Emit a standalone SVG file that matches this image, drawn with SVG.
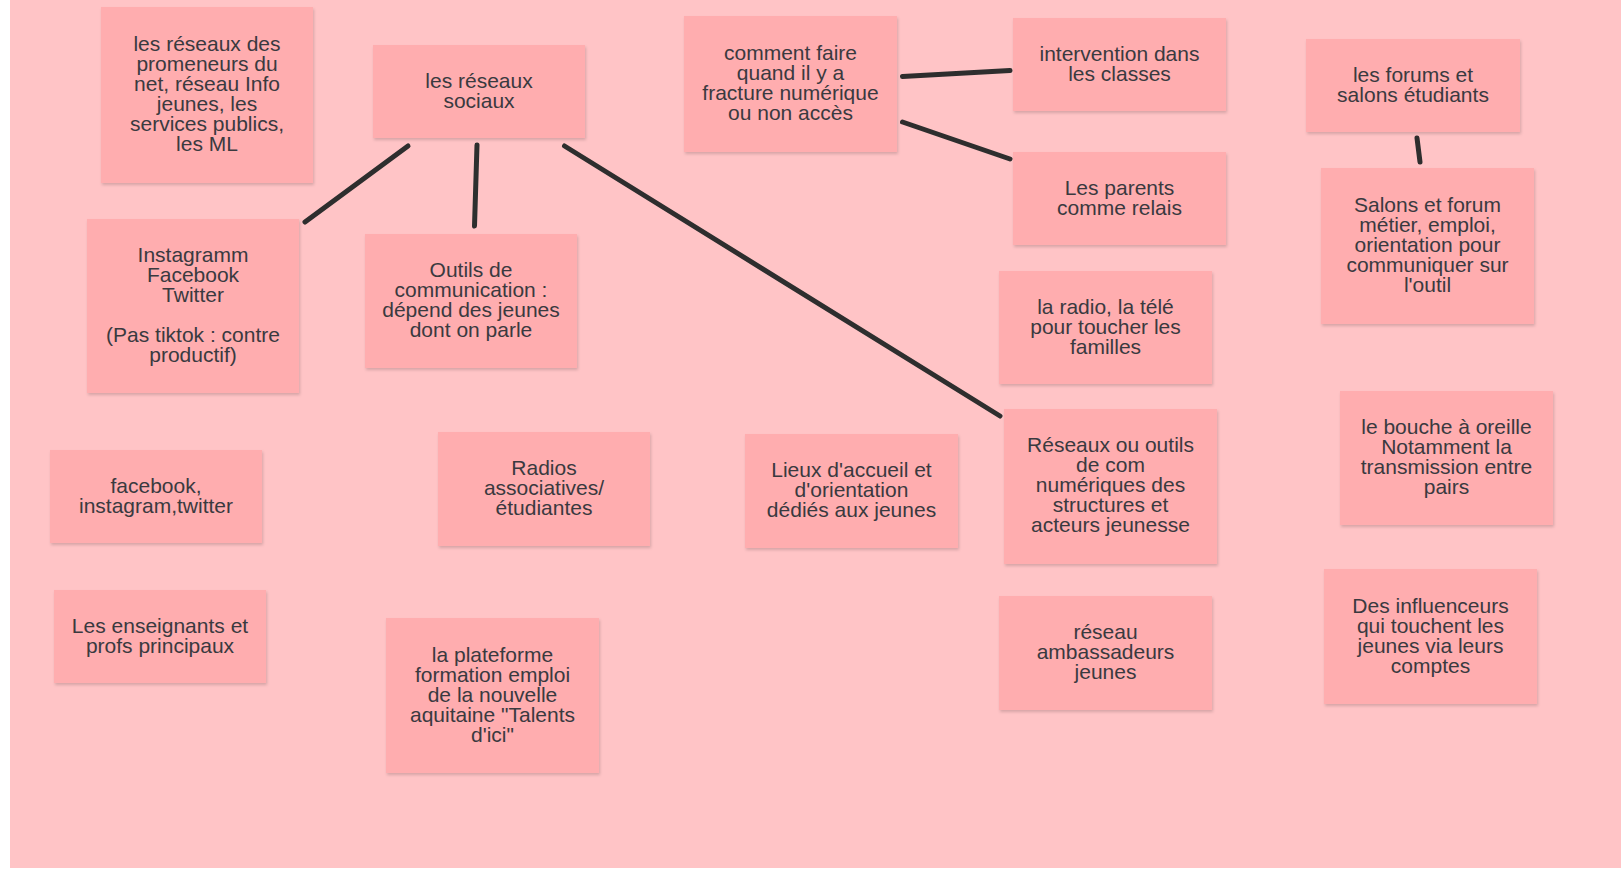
<svg xmlns="http://www.w3.org/2000/svg" width="1621" height="869" viewBox="0 0 1621 869">
<defs>
<filter id="sh" x="-10%" y="-10%" width="120%" height="125%">
<feDropShadow dx="1" dy="2" stdDeviation="1.5" flood-color="#000" flood-opacity="0.16"/>
</filter>
<style>
.bg{fill:#FFC4C6}
.note{fill:#FFADAF;filter:url(#sh)}
.t{font-family:"Liberation Sans",Arial,sans-serif;font-size:21px;fill:#3a3a3f;text-anchor:middle}
.c{stroke:#2e2e2e;stroke-width:5;stroke-linecap:round;fill:none}
</style>
</defs>
<rect x="0" y="0" width="1621" height="869" fill="#ffffff"/>
<rect class="bg" x="10" y="0" width="1611" height="868"/>

<g id="connectors">
<line class="c" x1="408" y1="146" x2="305" y2="222"/>
<line class="c" x1="477" y1="145" x2="474.5" y2="226"/>
<line class="c" x1="564.5" y1="146" x2="1000" y2="416"/>
<line class="c" x1="902.5" y1="76.5" x2="1010" y2="70.5"/>
<line class="c" x1="902.5" y1="122" x2="1010" y2="159"/>
<line class="c" x1="1417" y1="138" x2="1420" y2="162"/>
</g>

<g id="n1"><rect class="note" x="101" y="7" width="212" height="176"/>
<text class="t" y="51"><tspan x="207">les réseaux des</tspan><tspan x="207" dy="20">promeneurs du</tspan><tspan x="207" dy="20">net, réseau Info</tspan><tspan x="207" dy="20">jeunes, les</tspan><tspan x="207" dy="20">services publics,</tspan><tspan x="207" dy="20">les ML</tspan></text></g>

<g id="n2"><rect class="note" x="373" y="45" width="212" height="93"/>
<text class="t" y="87.5"><tspan x="479">les réseaux</tspan><tspan x="479" dy="20">sociaux</tspan></text></g>

<g id="n3"><rect class="note" x="684" y="16" width="213" height="136"/>
<text class="t" y="60"><tspan x="790.5">comment faire</tspan><tspan x="790.5" dy="20">quand il y a</tspan><tspan x="790.5" dy="20">fracture numérique</tspan><tspan x="790.5" dy="20">ou non accès</tspan></text></g>

<g id="n4"><rect class="note" x="1013" y="18" width="213" height="93"/>
<text class="t" y="60.5"><tspan x="1119.5">intervention dans</tspan><tspan x="1119.5" dy="20">les classes</tspan></text></g>

<g id="n5"><rect class="note" x="1306" y="39" width="214" height="93"/>
<text class="t" y="81.5"><tspan x="1413">les forums et</tspan><tspan x="1413" dy="20">salons étudiants</tspan></text></g>

<g id="n6"><rect class="note" x="87" y="219" width="212" height="174"/>
<text class="t" y="262"><tspan x="193">Instagramm</tspan><tspan x="193" dy="20">Facebook</tspan><tspan x="193" dy="20">Twitter</tspan><tspan x="193" dy="40">(Pas tiktok : contre</tspan><tspan x="193" dy="20">productif)</tspan></text></g>

<g id="n7"><rect class="note" x="365" y="234" width="212" height="134"/>
<text class="t" y="277"><tspan x="471">Outils de</tspan><tspan x="471" dy="20">communication :</tspan><tspan x="471" dy="20">dépend des jeunes</tspan><tspan x="471" dy="20">dont on parle</tspan></text></g>

<g id="n8"><rect class="note" x="1013" y="152" width="213" height="93"/>
<text class="t" y="194.5"><tspan x="1119.5">Les parents</tspan><tspan x="1119.5" dy="20">comme relais</tspan></text></g>

<g id="n9"><rect class="note" x="1321" y="168" width="213" height="156"/>
<text class="t" y="212"><tspan x="1427.5">Salons et forum</tspan><tspan x="1427.5" dy="20">métier, emploi,</tspan><tspan x="1427.5" dy="20">orientation pour</tspan><tspan x="1427.5" dy="20">communiquer sur</tspan><tspan x="1427.5" dy="20">l'outil</tspan></text></g>

<g id="n10"><rect class="note" x="999" y="271" width="213" height="113"/>
<text class="t" y="313.5"><tspan x="1105.5">la radio, la télé</tspan><tspan x="1105.5" dy="20">pour toucher les</tspan><tspan x="1105.5" dy="20">familles</tspan></text></g>

<g id="n11"><rect class="note" x="50" y="450" width="212" height="93"/>
<text class="t" y="492.5"><tspan x="156">facebook,</tspan><tspan x="156" dy="20">instagram,twitter</tspan></text></g>

<g id="n12"><rect class="note" x="438" y="432" width="212" height="114"/>
<text class="t" y="475"><tspan x="544">Radios</tspan><tspan x="544" dy="20">associatives/</tspan><tspan x="544" dy="20">étudiantes</tspan></text></g>

<g id="n13"><rect class="note" x="745" y="434" width="213" height="114"/>
<text class="t" y="477"><tspan x="851.5">Lieux d'accueil et</tspan><tspan x="851.5" dy="20">d'orientation</tspan><tspan x="851.5" dy="20">dédiés aux jeunes</tspan></text></g>

<g id="n14"><rect class="note" x="1004" y="409" width="213" height="155"/>
<text class="t" y="452"><tspan x="1110.5">Réseaux ou outils</tspan><tspan x="1110.5" dy="20">de com</tspan><tspan x="1110.5" dy="20">numériques des</tspan><tspan x="1110.5" dy="20">structures et</tspan><tspan x="1110.5" dy="20">acteurs jeunesse</tspan></text></g>

<g id="n15"><rect class="note" x="1340" y="391" width="213" height="134"/>
<text class="t" y="434"><tspan x="1446.5">le bouche à oreille</tspan><tspan x="1446.5" dy="20">Notamment la</tspan><tspan x="1446.5" dy="20">transmission entre</tspan><tspan x="1446.5" dy="20">pairs</tspan></text></g>

<g id="n16"><rect class="note" x="54" y="590" width="212" height="93"/>
<text class="t" y="632.5"><tspan x="160">Les enseignants et</tspan><tspan x="160" dy="20">profs principaux</tspan></text></g>

<g id="n17"><rect class="note" x="386" y="618" width="213" height="155"/>
<text class="t" y="661.5"><tspan x="492.5">la plateforme</tspan><tspan x="492.5" dy="20">formation emploi</tspan><tspan x="492.5" dy="20">de la nouvelle</tspan><tspan x="492.5" dy="20">aquitaine "Talents</tspan><tspan x="492.5" dy="20">d'ici"</tspan></text></g>

<g id="n18"><rect class="note" x="999" y="596" width="213" height="114"/>
<text class="t" y="639"><tspan x="1105.5">réseau</tspan><tspan x="1105.5" dy="20">ambassadeurs</tspan><tspan x="1105.5" dy="20">jeunes</tspan></text></g>

<g id="n19"><rect class="note" x="1324" y="569" width="213" height="135"/>
<text class="t" y="612.5"><tspan x="1430.5">Des influenceurs</tspan><tspan x="1430.5" dy="20">qui touchent les</tspan><tspan x="1430.5" dy="20">jeunes via leurs</tspan><tspan x="1430.5" dy="20">comptes</tspan></text></g>
</svg>
